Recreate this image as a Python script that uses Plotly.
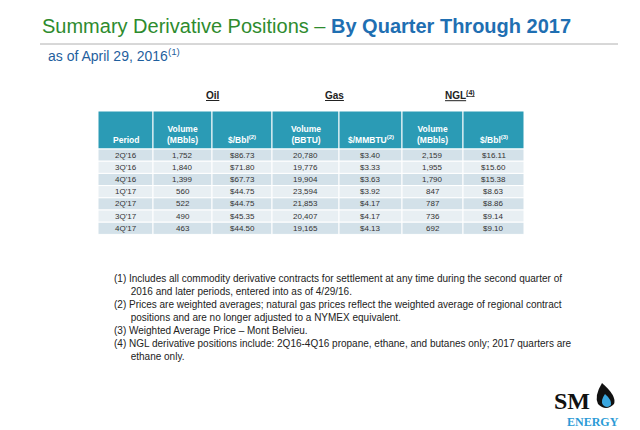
import plotly.graph_objects as go

periods = ["2Q'16", "3Q'16", "4Q'16", "1Q'17", "2Q'17", "3Q'17", "4Q'17"]
oil_volume = ["1,752", "1,840", "1,399", "560", "522", "490", "463"]
oil_price = ["$86.73", "$71.80", "$67.73", "$44.75", "$44.75", "$45.35", "$44.50"]
gas_volume = ["20,780", "19,776", "19,904", "23,594", "21,853", "20,407", "19,165"]
gas_price = ["$3.40", "$3.33", "$3.63", "$3.92", "$4.17", "$4.17", "$4.13"]
ngl_volume = ["2,159", "1,955", "1,790", "847", "787", "736", "692"]
ngl_price = ["$16.11", "$15.60", "$15.38", "$8.63", "$8.86", "$9.14", "$9.10"]

headers = ["Period", "Volume<br>(MBbls)", "$/Bbl<sup>(2)</sup>",
           "Volume<br>(BBTU)", "$/MMBTU<sup>(2)</sup>",
           "Volume<br>(MBbls)", "$/Bbl<sup>(3)</sup>"]
groups = ["Oil", "Gas", "NGL<sup>(4)</sup>"]
footnotes = [
    "(1) Includes all commodity derivative contracts for settlement at any time during the second quarter of<br>"
    "      2016 and later periods, entered into as of 4/29/16.",
    "(2) Prices are weighted averages; natural gas prices reflect the weighted average of regional contract<br>"
    "      positions and are no longer adjusted to a NYMEX equivalent.",
    "(3) Weighted Average Price \u2013 Mont Belvieu.",
    "(4) NGL derivative positions include: 2Q16-4Q16 propane, ethane, and butanes only; 2017 quarters are<br>"
    "      ethane only.",
]

W, H = 640, 430
col_edges = [90, 145, 204, 264, 331, 394, 455, 516]
head_top, head_bot, row_h = 103, 141, 12.2
columns = [periods, oil_volume, oil_price, gas_volume, gas_price, ngl_volume, ngl_price]

fig = go.Figure()
shapes = [
    dict(type="line", x0=32, x1=610, y0=36, y1=36, line=dict(color="#b0b0b0", width=1)),
    dict(type="line", x0=0, x1=W, y0=426, y1=426, line=dict(color="#a0a0a0", width=2)),
    dict(type="path", path="M 594 375 Q 586 388 590 396 Q 598 404 606 396 Q 609 388 594 375 Z",
         fillcolor="#111111", line=dict(width=0)),
    dict(type="path", path="M 597 386 Q 592 393 595 397 Q 599 401 603 397 Q 604 392 597 386 Z",
         fillcolor="#3aa7e0", line=dict(width=0)),
]
anns = [
    dict(x=32, y=18, text="<span style='color:#2e8b2e'>Summary Derivative Positions \u2013 </span>"
                          "<b><span style='color:#1f6fb2'>By Quarter Through 2017</span></b>",
         font=dict(family="Arial", size=20), xanchor="left"),
    dict(x=38, y=47, text="as of April 29, 2016<sup>(1)</sup>",
         font=dict(family="Arial", size=14, color="#1f5f9e"), xanchor="left"),
]

for c, (x0, x1) in enumerate(zip(col_edges[:-1], col_edges[1:])):
    shapes.append(dict(type="rect", x0=x0, x1=x1, y0=head_top, y1=head_bot,
                       fillcolor="#2b9bb5", line=dict(color="white", width=1)))
    anns.append(dict(x=(x0 + x1) / 2, y=head_bot - 2, text="<b>" + headers[c] + "</b>", yanchor="bottom",
                     font=dict(family="Arial", size=8.5, color="white")))
    for r, val in enumerate(columns[c]):
        y0 = head_bot + r * row_h
        shapes.append(dict(type="rect", x0=x0, x1=x1, y0=y0, y1=y0 + row_h,
                           fillcolor="#d3e1e9" if r % 2 == 0 else "#e8eff3",
                           line=dict(color="white", width=1)))
        anns.append(dict(x=(x0 + x1) / 2, y=y0 + row_h / 2, text=val,
                         font=dict(family="Arial", size=8, color="#333333")))

for g, xc in zip(groups, [205, 326, 452]):
    anns.append(dict(x=xc, y=87, text="<b><u>" + g + "</u></b>",
                     font=dict(family="Arial", size=10, color="#222222")))
fy = 263
for f in footnotes:
    anns.append(dict(x=104, y=fy, text=f, xanchor="left", yanchor="top", align="left",
                     font=dict(family="Arial", size=10, color="#222222")))
    fy += 26 if "<br>" in f else 13
anns.append(dict(x=584, y=393, text="<b>SM</b>",
                 font=dict(family="Times New Roman", size=24, color="#111111"), xanchor="right"))
anns.append(dict(x=585, y=414, text="<b>ENERGY</b>",
                 font=dict(family="Times New Roman", size=12, color="#2b9bd6"), xanchor="center"))
for a in anns:
    a.update(xref="x", yref="y", showarrow=False)

fig.update_layout(
    width=W, height=H, margin=dict(l=0, r=0, t=0, b=0),
    paper_bgcolor="white", plot_bgcolor="white",
    xaxis=dict(range=[0, W], visible=False, fixedrange=True),
    yaxis=dict(range=[H, 0], visible=False, fixedrange=True),
    annotations=anns, shapes=shapes,
)
fig.write_html("out.html")
